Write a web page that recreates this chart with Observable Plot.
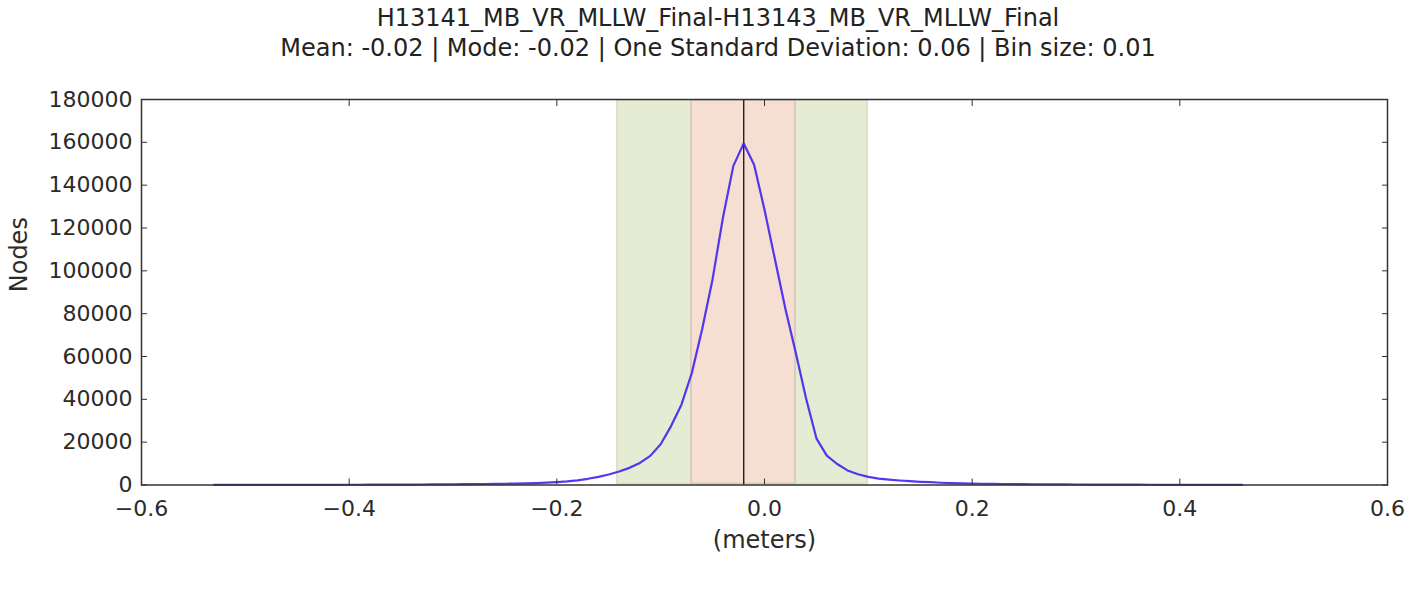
<!DOCTYPE html>
<html>
<head>
<meta charset="utf-8">
<script src="https://cdn.jsdelivr.net/npm/d3@7"></script>
<script src="https://cdn.jsdelivr.net/npm/@observablehq/plot@0.6"></script>
<style>
  body { margin: 0; background: #fff; font-family: "DejaVu Sans", sans-serif; }
  #wrap { position: relative; width: 1420px; height: 590px; overflow: hidden; }
  #title { position: relative; width: 1420px; height: 80px; }
  .t { position: absolute; left: 0; width: 1436px; text-align: center; font-size: 24px; line-height: 28px; color: #222; white-space: nowrap; }
  #chart svg { display: block; }
</style>
</head>
<body>
<div id="wrap">
  <div id="title">
    <div class="t" id="t1" style="top:4px"></div>
    <div class="t" id="t2" style="top:34px"></div>
  </div>
  <div id="chart"></div>
</div>
<script>
// ---- data ----
const titleText = "H13141_MB_VR_MLLW_Final-H13143_MB_VR_MLLW_Final";
const subtitleText = "Mean: -0.02 | Mode: -0.02 | One Standard Deviation: 0.06 | Bin size: 0.01";
const xLabel = "(meters)";
const yLabel = "Nodes";

const binStart = -0.53;   // first bin drawn
const binSize = 0.01;
// node counts per bin, from -0.53 to 0.46
const counts = [
  20, 30, 30, 40, 40, 50, 50, 60, 60, 70,
  80, 90, 100, 110, 120, 130, 150, 160, 180, 200,
  230, 260, 290, 330, 370, 420, 470, 520, 580, 660,
  760, 900, 1100, 1350, 1700, 2200, 2900, 3800, 4900, 6300,
  8000, 10300, 13600, 19000, 27500, 37500, 52300, 72800, 96100, 124900,
  149000, 159500, 149500, 128500, 105500, 82500, 62000, 40500, 21800, 13700,
  9800, 6800, 5000, 3800, 3000, 2500, 2100, 1800, 1500, 1300,
  1050, 900, 760, 650, 580, 520, 470, 420, 380, 340,
  310, 280, 250, 230, 210, 190, 170, 150, 140, 130,
  110, 100, 90, 80, 70, 60, 50, 40, 30, 20
];

const meanValue = -0.02;
const bandNames = ["outer", "inner"];
const bandLow  = [-0.1416, -0.0703];
const bandHigh = [0.0992, 0.0299];

const xTicks = [-0.6, -0.4, -0.2, 0.0, 0.2, 0.4, 0.6];
const yTicks = [0, 20000, 40000, 60000, 80000, 100000, 120000, 140000, 160000, 180000];

// ---- build tables ----
const series = counts.map((c, i) => ({x: +(binStart + i * binSize).toFixed(2), y: c}));
const bands = bandNames.map((n, i) => ({name: n, lo: bandLow[i], hi: bandHigh[i]}));

document.getElementById("t1").textContent = titleText;
document.getElementById("t2").textContent = subtitleText;

const ink = "#2b2b2b";

const chart = Plot.plot({
  width: 1420,
  height: 510,
  marginTop: 19,
  marginBottom: 105.5,
  marginLeft: 141,
  marginRight: 33,
  style: {fontFamily: "DejaVu Sans", fontSize: "22px", color: ink, background: "#fff"},
  x: {domain: [-0.6, 0.6]},
  y: {domain: [0, 180000]},
  color: {domain: bandNames, range: ["#e5ecd3", "#f6dfd2"]},
  marks: [
    Plot.rect(bands, {x1: "lo", x2: "hi", fill: "name"}),
    Plot.rect(bands, {x1: "lo", x2: "hi", fill: "none",
      stroke: d => d.name === "outer" ? "#dce2c6" : "#dccbbd", strokeWidth: 2, insetTop: 1, insetBottom: 1}),
    Plot.ruleX([meanValue], {stroke: "#111", strokeWidth: 1.3}),
    Plot.line(series, {x: "x", y: "y", stroke: "#3f24f0", strokeWidth: 2.2, strokeOpacity: 0.9}),
    Plot.frame({stroke: "#333", strokeWidth: 1.5}),
    Plot.axisX(xTicks, {anchor: "bottom", tickSize: -6, tickPadding: 21, stroke: "#333",
      tickFormat: d3.format(".1f"), label: null}),
    Plot.axisX(xTicks, {anchor: "top", tickSize: -6, stroke: "#333", tickFormat: () => "", label: null}),
    Plot.axisY(yTicks, {anchor: "left", tickSize: -6, tickPadding: 15, stroke: "#333",
      tickFormat: d3.format("d"), label: null}),
    Plot.axisY(yTicks, {anchor: "right", tickSize: -6, stroke: "#333", tickFormat: () => "", label: null}),
    Plot.text([xLabel], {text: d => d, frameAnchor: "bottom", lineAnchor: "top", dy: 46, fontSize: 24, fill: ink}),
    Plot.text([yLabel], {text: d => d, frameAnchor: "left", rotate: -90, lineAnchor: "bottom", dx: -115, fontSize: 24, fill: ink})
  ]
});
document.getElementById("chart").appendChild(chart);
</script>
</body>
</html>
